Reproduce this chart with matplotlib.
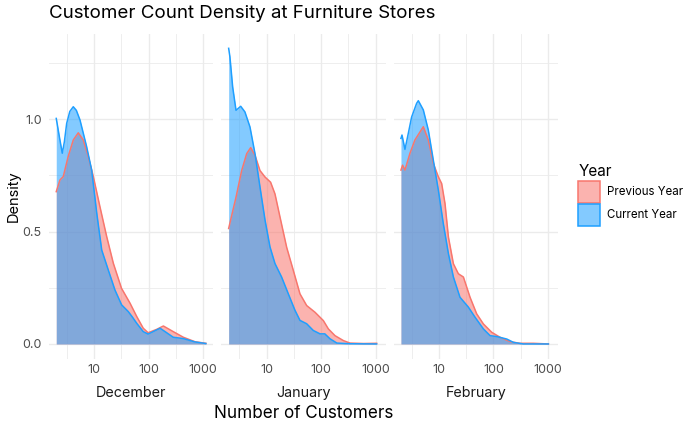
import matplotlib
matplotlib.use('Agg')
import matplotlib.pyplot as plt
from matplotlib.patches import Patch
from matplotlib.ticker import FixedLocator, FixedFormatter, NullFormatter

plt.rcParams['font.family'] = ['Inter', 'DejaVu Sans']

# months / facets
months = ['December', 'January', 'February']
series_names = ['Previous Year', 'Current Year']

# density curves (x = number of customers, y = density)
dec_prev_x = [2.0, 2.34, 2.69, 3.31, 4.11, 5.08, 6.28, 7.76, 9.6, 12.7, 16.9, 22.4, 31.6,
              45.5, 60.3, 79.4, 97.7, 140, 186, 282, 432, 708, 1122]
dec_prev_y = [0.678, 0.730, 0.745, 0.834, 0.908, 0.940, 0.908, 0.834, 0.745, 0.611, 0.478,
              0.359, 0.248, 0.181, 0.122, 0.070, 0.050, 0.065, 0.080, 0.055, 0.030, 0.010, 0.003]
dec_cur_x = [2.0, 2.29, 2.58, 2.82, 3.11, 3.55, 4.11, 4.68, 5.46, 7.24, 8.95, 11.1, 13.7,
             18.1, 24.0, 31.8, 42.2, 50.1, 60.3, 79.4, 97.7, 131, 162, 214, 282, 432, 708, 1122]
dec_cur_y = [1.004, 0.92, 0.849, 0.90, 0.982, 1.035, 1.056, 1.04, 0.997, 0.878, 0.774, 0.582,
             0.418, 0.329, 0.240, 0.174, 0.144, 0.120, 0.092, 0.055, 0.044, 0.059, 0.070,
             0.050, 0.030, 0.024, 0.009, 0.002]

jan_prev_x = [2.0, 2.28, 2.73, 3.47, 4.29, 5.08, 6.10, 7.53, 9.33, 11.8, 14.2, 17.6, 23.3,
              30.9, 40.9, 54.3, 77.3, 110, 136, 180, 257, 339, 603, 1047]
jan_prev_y = [0.514, 0.573, 0.653, 0.772, 0.847, 0.874, 0.840, 0.772, 0.743, 0.720, 0.668,
              0.564, 0.430, 0.327, 0.223, 0.171, 0.141, 0.104, 0.067, 0.037, 0.015, 0.004,
              0.002, 0.003]
jan_cur_x = [2.0, 2.11, 2.37, 2.73, 3.33, 3.98, 4.93, 6.10, 7.53, 9.33, 11.5, 14.2, 18.8,
             24.9, 33.1, 40.9, 54.3, 71.9, 95.5, 117, 146, 195, 339, 1047]
jan_cur_y = [1.316, 1.278, 1.144, 1.040, 1.058, 1.033, 0.966, 0.847, 0.699, 0.551, 0.432,
             0.358, 0.298, 0.224, 0.150, 0.105, 0.090, 0.060, 0.045, 0.045, 0.023, 0.004,
             0.001, 0.0]

feb_prev_x = [2.0, 2.14, 2.37, 2.92, 3.61, 5.15, 6.37, 7.87, 9.73, 11.2, 12.9, 14.9, 18.4,
              22.7, 28.1, 37.2, 49.3, 65.5, 93.1, 132, 203, 309, 545, 1023]
feb_prev_y = [0.774, 0.796, 0.774, 0.848, 0.908, 0.967, 0.908, 0.804, 0.744, 0.714, 0.625,
              0.476, 0.357, 0.3125, 0.298, 0.208, 0.134, 0.089, 0.052, 0.030, 0.010, 0.003,
              0.003, 0.0]
feb_cur_x = [2.0, 2.09, 2.37, 2.73, 3.14, 3.88, 4.17, 5.15, 6.37, 7.87, 9.73, 12.0, 14.9,
             18.4, 24.3, 34.7, 46.0, 65.5, 86.9, 115, 176, 234, 355, 1023]
feb_cur_y = [0.915, 0.930, 0.866, 0.9375, 1.010, 1.071, 1.083, 1.042, 0.952, 0.818, 0.685,
             0.536, 0.402, 0.298, 0.208, 0.164, 0.119, 0.067, 0.037, 0.033, 0.022, 0.007,
             0.0, 0.0]

panels = [
    [(dec_prev_x, dec_prev_y), (dec_cur_x, dec_cur_y)],
    [(jan_prev_x, jan_prev_y), (jan_cur_x, jan_cur_y)],
    [(feb_prev_x, feb_prev_y), (feb_cur_x, feb_cur_y)],
]

x_major = [10, 100, 1000]
x_labels = ['10', '100', '1000']
x_minor = [3.162, 31.62, 316.2]
y_major = [0.0, 0.5, 1.0]
y_minor = [0.25, 0.75, 1.25]

line_colors = ['#F8766D', '#1E9FFF']
fill_alpha = 0.55
grid_color = '#EBEBEB'
text_color = '#4D4D4D'

W, H = 700, 432
fig = plt.figure(figsize=(7, 4.32), dpi=100)

panel_left = [48.8, 221.2, 393.5]
panel_w = 164.5
panel_top, panel_bottom = 33.5, 358.8

for i, month in enumerate(months):
    ax = fig.add_axes([panel_left[i] / W, (H - panel_bottom) / H,
                       panel_w / W, (panel_bottom - panel_top) / H])
    ax.set_xscale('log')
    ax.set_xlim(1.459, 1538)
    ax.set_ylim(-0.066, 1.382)
    for sp in ax.spines.values():
        sp.set_visible(False)

    ax.xaxis.set_major_locator(FixedLocator(x_major))
    ax.xaxis.set_major_formatter(FixedFormatter(x_labels))
    ax.xaxis.set_minor_locator(FixedLocator(x_minor))
    ax.xaxis.set_minor_formatter(NullFormatter())
    ax.yaxis.set_major_locator(FixedLocator(y_major))
    ax.yaxis.set_minor_locator(FixedLocator(y_minor))
    ax.grid(which='major', color=grid_color, lw=1.0)
    ax.grid(which='minor', color=grid_color, lw=0.6)
    ax.set_axisbelow(True)
    ax.tick_params(which='both', length=0, labelsize=9, colors=text_color)
    ax.tick_params(axis='x', pad=4)
    ax.tick_params(axis='y', pad=5)
    if i == 0:
        ax.set_yticklabels(['0.0', '0.5', '1.0'])
    else:
        ax.set_yticklabels([])

    for (xs, ys), col in zip(panels[i], line_colors):
        ax.fill_between(xs, 0, ys, color=col, alpha=fill_alpha, lw=0)
        ax.plot(xs, ys, color=col, lw=1.1)

    fig.text((panel_left[i] + panel_w / 2) / W, 1 - 393 / H, month,
             ha='center', va='center', fontsize=10.3, color='#1A1A1A')

fig.text(7 / W, 1 - 196 / H, 'Density', rotation=90, ha='left', va='center',
         fontsize=10.5, color='black')
fig.text(303.4 / W, 1 - 414 / H, 'Number of Customers', ha='center', va='center',
         fontsize=12.3, color='black')
fig.text(49 / W, 1 - 14 / H, 'Customer Count Density at Furniture Stores',
         ha='left', va='center', fontsize=13.5, color='black')

handles = [Patch(facecolor=matplotlib.colors.to_rgba(c, fill_alpha), edgecolor=c, lw=1.1)
           for c in line_colors]
leg = fig.legend(handles, series_names, title='Year', loc='upper left',
                 bbox_to_anchor=(575 / W, 1 - 161 / H), frameon=False, fontsize=8.3,
                 title_fontsize=11, handlelength=1.9, handleheight=2.55,
                 labelspacing=0.1, handletextpad=0.6, borderaxespad=0,
                 borderpad=0.3)
leg._legend_box.align = 'left'

fig.savefig('out.png', dpi=100)
